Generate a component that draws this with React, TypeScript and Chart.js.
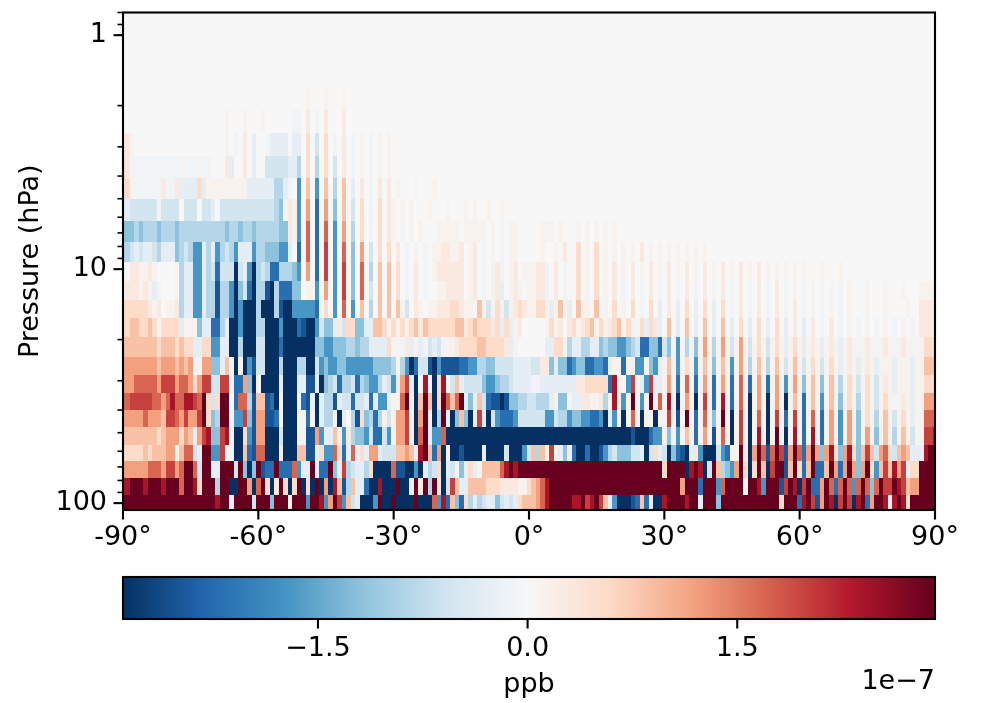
import React, { useEffect, useRef } from "react";
import { Chart, registerables } from "chart.js";

Chart.register(...registerables);

const FONT = "'DejaVu Sans', sans-serif";
const FONT_SIZE = 27;
const AXIS_WIDTH = 2.1;

// Pressure level edges (hPa), top of the plot to the bottom.
const pressureEdges = [0.8, 1.02, 1.3, 1.67, 2.09, 2.62, 3.29, 4.08, 5.02, 6.23, 7.67, 9.33, 11.25, 13.6, 16.2, 19.5, 23.8, 28.4, 33.9, 40.1, 47.3, 56.5, 66.1, 78.2, 92.4, 107];
const latitudeStart = -90;
const latitudeStep = 1;
const latitudeCount = 181;

const bandValues: Record<string, number> = {
  a: 2.9, b: 2.4, c: 2.0, d: 1.7, e: 1.2, f: 0.85, g: 0.55, h: 0.28, i: 0.1, ".": 0,
  I: -0.1, H: -0.28, G: -0.55, F: -0.85, E: -1.2, D: -1.7, C: -2.2, B: -2.5, A: -2.9,
};

// One row per pressure level, one letter per latitude (cell centred on it), in groups of ten (blank = 0).
const levelRows = [
  "",
  "",
  "",
  ".......... .......... .......... .......... .i...i...i",
  ".......... .......... ...i...i.. .i......II .h.I.h...h",
  "hhi....... .......... ...i.I.h.H ..IHHHH.HH .g.G.g.I.h .I.i.I.i.i",
  "ghIIIIIIII IIIIiIIiII ...hH..h.H ..GGGGGHHF .g.F.g.G.h .I.i.I.i.i",
  "ggiIIIIIIh IIhHHHHgHi iiiiiiiiHH HHHHFFHI.D .f.D.f.F.f .H.h.I.h.h .i...i...i",
  "HHGGGGGGIG GGG.GGG.GG H.GGGGGGGG GGGGFEihiD .e.C.e.E.f .G.g.I.g.h i.i.i...i. ..i...i.i. .i..i.....",
  "EEEFEFFFEF FFEFFFFFFF FFFEFFEFFE FFFFFEEhiD .d.C.d.D.e .F.g.I.g.h i.I.i.i... iiiii.iiii i.i.I.ii.. ...iIi.i.. .i.i.i.i.i",
  "FFGHGHHGFH HHEFGFDDHF HDFGFDHHHD FFEEEDDH.C .d.C.c.D.d .E.e.G.g.g .h.I.i.I.i ihhiih.ih. I.i.I.ii.. ...i..i.h. .g.i.g.i.i .i.i.h.i.i .i.i.i.i.i",
  "I.hhiihi.. ..iFHHDDHF GCGGGAGHDA FGFCCFFFED .e.C.c.D.c .E.d.F.f.f .g.I.h.I.i hhhhhh.ih. I.ihI.ih.i iihhI.h.I. .g.i.g.i.h .i.h.i.h.i .h.i.h.i.h .i.h.i.h.i .h.i.i.i.i .i...i...i",
  "ihhhihiHI. ..iFHHDDHF FBFFDAEGCA FFBAFCCCEE .iiD.e.D.c .E.d.G.f.f .g.I.h.I.. iihhhh.ih. I.ihH.ihi. iihhI.h.I. .g.I.g.i.h .I.h.I.h.I .h.I.h.I.h .I.h.I.h.I .h.I.h.I.i .I.i.I.i.I .i...i...i ...i...iiii",
  "gggggghih. iihFHHDDHF FBFFDADAAA FAAAFBAADD DDDCIg.D.d .D.f.F.f.f .fiG.hi.ii hhhgghii.f iGigiGihgh iiggiHifiH .fii.f.i.g .i.g.I.g.H .h.H.g.H.g .H.g.I.h.I .h.I.h.I.h .I.i.I.i.I .i...i...i ....i..hhhh",
  "ggffggfgig gggHiiiEHH CCFHAADAAA FFAAADAAAC BAADGEEHhG ggEEHHffgi gigigfhfgg ggggffhgfg gghgHgHih. ....igih.h gihgfigihg figiIgHghH .f.H.f.H.f .H.f.H.g.H .g.H.g.H.h .H.h.I.h.I .i.I.i.I.i .I.i.I.hhhh",
  "ffffffffgf ffgfggHHgg DDHHAAFAAA GGAAACAAAA AAAEEDDEEE FFEFFHHHHg IiIhHiHIGH GIiihggggf fgggghHi.. ....HHggIF HHFFHHEFEE DDEFGCCEEC GEiDiFiEie iFieiGieiG igiGigiHig iHihiHihiH ihiIihiIih iIihiIiiggg",
  "eeeeeeeefe eefefeIIee EEHfIAiADB GGAAAFAAAF FAAGDEDDEE DDDDDDEEEE FiFDACGGBA DBBBBCCDDF FEEGGGGHHH HGGhhEHEEC DEECCDDCHi iCiiDDiEDH ifiDigiDif iEifiDieiF ifiFifiGif iGigiGigiH ihiHihiHii iHiiiHiifff",
  "eeedddddec cceddegecc GGccICCeEA iAAAAHAAAH HBBHAEFGCF FGCFEDDFHG DHecHAIbIA gb.GfHGGGG EDDEFFGHHH HIIHHHHHHH HhhgggggCb iiDciHDcHH ieiCidiCie iCieiCidiC ieiCieiDie iEifiEifiF igiGigiGih iHiiiHiiggg",
  "ddcccccdde dbddbbcdag Ggaa.CddFB ffBCAiAAAI CBHAHFFBHG GCGGHCHDDH iidaiAfafA gadfdaHEHf GCBBABEEFF GGFFFHiEEi HHhhiihFib iDiaiDiaid ibiAieiAic iCibiCidiA ieiAieiAif iCifiDifiE igiFigiGig iIihiHiieee",
  "eeeeedeeef ccdeceecag EFaaiDDcEB eeBBCiAAAi iCiAHFFiAH .FBgEFCFiG ieeciAeaiA FaHAEfEAHc HAGDCCCDGG GGGGDDGFFD EEDDCCDAHD iAidiAiiAi iciBiaiCid iEiaiAiciA idiAiciCic iCidiCieiD ieiEigiFif iGigiHiiddd",
  "ffffffffgf eeegefHecb EEcbiAAgDB eeAAAGAAAi iBBeDHHfiD hFEEDGCCGD ieeciAdaHD DdAAAAAAAA AAAAAAAAAA AAAAAAAAAA AAAAAAAAAA AAABAAACDD iEiDifiCie iBidiAiciA ibiAiaiAib iCibiCieiD ieiEieiEif iFifiGiiccb",
  "gggggfgfff eeifddGHaa DDcIIAAfCB ddAAAhAAAf fBBHgDDdgC HdHgHeeHGG GffefHbafC eAiAABAAAA HAAAAGAAAD GfFficiHEh CAACAABDFG EEEGGHAGgH GAECBAHhDA AAGDCiiahA eadBdacBea dCeaeEebgE ebgEfcfGed gGfefHHHbaa",
  "eeeeeeddde ccedaadGaa HHaaaGaEAE aBCCaCCCdD HHaHCCaEHc FGHHFgAAAA dBBAADAHFG gAHGiEHgHi ffffdbabaa aaaaaaaaaa aaaaaaaaaa aaaaaaaaaa gaaaaAbabA GafFEDeagA gafAcaaBfa gCfaCCfaeC eaeEeagDfc fbecHggaaaa",
  "bbaaabaaab aaadaabgaa aFaaAAaaeA dagAhagAga AgAaAeAbfB FfHHCAAbAA AaAAHahaFa hAGcfHHfff fggghhhhii gfedbaaaaa aaaaaaaaaa aaaaaaaaaa aaaaeaaaCa aaDdaaaaIa abDaaaBcab AcaCCeadCd adDdadEdac cabcfeeaaaa",
  "aaaaaaaaaa aaaaaaaaaa abaaHaaaaG aaaEaaaiaa aDaabDeacD fGHAAADaAA aAAAAaAAAd DbCfECgFHF GHHEGHGHgf ffedbaaaaa bbacbacfHD AAABCfCHAA baaaabaaHa aaEaaaaaaa aaaaaagaaa CbacBeabAc acAbaCeaab Hbabgaaaaaa",
];

const xTickValues = [-90, -60, -30, 0, 30, 60, 90];
const yMajorTicks = [1, 10, 100];
const yMinorTicks = [0.8, 0.9, 2, 3, 4, 5, 6, 7, 8, 9, 20, 30, 40, 50, 60, 70, 80, 90];
const colorbarTicks = [-1.5, 0, 1.5];
const colorbarMin = -2.895;
const colorbarMax = 2.915;
const colorLimit = 2.9;
const colorbarLabel = "ppb";
const colorbarExponent = "1e\u22127";
const yAxisLabel = "Pressure (hPa)";

// matplotlib RdBu_r colormap stops.
const rdbu = ["#053061", "#2166ac", "#4393c3", "#92c5de", "#d1e5f0", "#f7f7f7", "#fddbc7", "#f4a582", "#d6604d", "#b2182b", "#67001f"];
const rdbuRgb = rdbu.map((h) => [1, 3, 5].map((i) => parseInt(h.slice(i, i + 2), 16)));

function colorFor(v: number) {
  const t = Math.max(0, Math.min(1, (v + colorLimit) / (2 * colorLimit))) * (rdbuRgb.length - 1);
  const i = Math.min(rdbuRgb.length - 2, Math.floor(t));
  const f = t - i;
  const c = rdbuRgb[i].map((a, k) => Math.round(a + (rdbuRgb[i + 1][k] - a) * f));
  return `rgb(${c[0]},${c[1]},${c[2]})`;
}

type Cell = { x: number; y: number; x0: number; x1: number; y0: number; y1: number; v: number };

function buildCells(): Cell[] {
  const cells: Cell[] = [];
  levelRows.forEach((row, r) => {
    const codes = row.replace(/ /g, "");
    for (let c = 0; c < latitudeCount; c++) {
      const v = bandValues[codes[c] ?? "."] ?? 0;
      const x = latitudeStart + c * latitudeStep;
      cells.push({
        x,
        y: pressureEdges[r],
        x0: Math.max(latitudeStart, x - latitudeStep / 2),
        x1: Math.min(-latitudeStart, x + latitudeStep / 2),
        y0: pressureEdges[r],
        y1: pressureEdges[r + 1],
        v,
      });
    }
  });
  return cells;
}

const heatmapPlugin = {
  id: "heatmap",
  beforeDatasetsDraw(chart: any) {
    const { ctx, scales } = chart;
    ctx.save();
    for (const d of chart.data.datasets[0].data as Cell[]) {
      const l = Math.round(scales.x.getPixelForValue(d.x0));
      const r = Math.round(scales.x.getPixelForValue(d.x1));
      const t = Math.round(scales.y.getPixelForValue(d.y0));
      const b = Math.round(scales.y.getPixelForValue(d.y1));
      ctx.fillStyle = colorFor(d.v);
      ctx.fillRect(l, t, r - l, b - t);
    }
    ctx.restore();
  },
};

function line(ctx: CanvasRenderingContext2D, x0: number, y0: number, x1: number, y1: number, w: number) {
  ctx.lineWidth = w;
  ctx.beginPath();
  ctx.moveTo(x0, y0);
  ctx.lineTo(x1, y1);
  ctx.stroke();
}

const framePlugin = {
  id: "frame",
  afterDraw(chart: any) {
    const { ctx, chartArea: a, scales } = chart;
    ctx.save();
    ctx.strokeStyle = "#000";
    ctx.lineCap = "butt";
    ctx.lineWidth = AXIS_WIDTH;
    ctx.strokeRect(a.left, a.top, a.right - a.left, a.bottom - a.top);
    for (const v of xTickValues) {
      const x = scales.x.getPixelForValue(v);
      line(ctx, x, a.bottom, x, a.bottom + 9.5, AXIS_WIDTH);
    }
    for (const v of yMajorTicks) {
      const y = scales.y.getPixelForValue(v);
      line(ctx, a.left - 9.5, y, a.left, y, AXIS_WIDTH);
    }
    for (const v of yMinorTicks) {
      const y = scales.y.getPixelForValue(v);
      line(ctx, a.left - 5.5, y, a.left, y, 1.6);
    }
    ctx.restore();
  },
};

const colorbarPlugin = {
  id: "colorbar",
  beforeDatasetsDraw(chart: any) {
    const { ctx, chartArea: a, scales } = chart;
    const x0 = scales.x.getPixelForValue(-colorLimit);
    const x1 = scales.x.getPixelForValue(colorLimit);
    const g = ctx.createLinearGradient(x0, 0, x1, 0);
    rdbu.forEach((c, i) => g.addColorStop(i / (rdbu.length - 1), c));
    ctx.save();
    ctx.fillStyle = g;
    ctx.fillRect(a.left, a.top, a.right - a.left, a.bottom - a.top);
    ctx.restore();
  },
  afterDraw(chart: any) {
    const { ctx, chartArea: a, scales } = chart;
    ctx.save();
    ctx.strokeStyle = "#000";
    ctx.lineWidth = AXIS_WIDTH;
    ctx.strokeRect(a.left, a.top, a.right - a.left, a.bottom - a.top);
    for (const v of colorbarTicks) {
      const x = scales.x.getPixelForValue(v);
      line(ctx, x, a.bottom, x, a.bottom + 9.5, AXIS_WIDTH);
    }
    ctx.fillStyle = "#000";
    ctx.font = `${FONT_SIZE}px ${FONT}`;
    ctx.textAlign = "right";
    ctx.textBaseline = "middle";
    ctx.fillText(colorbarExponent, a.right, 122);
    ctx.restore();
  },
};

export default function App() {
  const mainRef = useRef<HTMLCanvasElement>(null);
  const barRef = useRef<HTMLCanvasElement>(null);

  useEffect(() => {
    const font = { family: FONT, size: FONT_SIZE };
    const main = new Chart(mainRef.current!, {
      type: "scatter",
      data: { datasets: [{ data: buildCells() as any, pointRadius: 0, showLine: false }] },
      plugins: [heatmapPlugin, framePlugin],
      options: {
        responsive: false,
        animation: false,
        events: [],
        layout: { autoPadding: false, padding: { top: 12.5, right: 46, left: 0, bottom: 0 } },
        plugins: { legend: { display: false }, tooltip: { enabled: false } },
        scales: {
          x: {
            type: "linear",
            min: -90,
            max: 90,
            grid: { display: false, drawTicks: false },
            border: { display: false },
            afterFit: (s: any) => { s.height = 50; s.paddingLeft = 0; s.paddingRight = 0; },
            afterBuildTicks: (s: any) => { s.ticks = xTickValues.map((value) => ({ value })); },
            ticks: { color: "#000", font, padding: 12, maxRotation: 0, autoSkip: false, callback: (v: any) => `${v}\u00b0` },
          },
          y: {
            type: "logarithmic",
            reverse: true,
            min: pressureEdges[0],
            max: pressureEdges[pressureEdges.length - 1],
            grid: { display: false, drawTicks: false },
            border: { display: false },
            afterFit: (s: any) => { s.width = 123; s.paddingTop = 0; s.paddingBottom = 0; },
            afterBuildTicks: (s: any) => { s.ticks = yMajorTicks.map((value) => ({ value, major: true })); },
            title: { display: true, text: yAxisLabel, color: "#000", font, padding: { top: 15, bottom: 0 } },
            ticks: { color: "#000", font, padding: 16, autoSkip: false, callback: (v: any) => `${v}` },
          },
        },
      },
    } as any);

    const bar = new Chart(barRef.current!, {
      type: "scatter",
      data: { datasets: [{ data: [] }] },
      plugins: [colorbarPlugin],
      options: {
        responsive: false,
        animation: false,
        events: [],
        layout: { autoPadding: false, padding: { top: 17, left: 123, right: 46, bottom: 0 } },
        plugins: { legend: { display: false }, tooltip: { enabled: false } },
        scales: {
          x: {
            type: "linear",
            min: colorbarMin,
            max: colorbarMax,
            grid: { display: false, drawTicks: false },
            border: { display: false },
            afterFit: (s: any) => { s.height = 84; s.paddingLeft = 0; s.paddingRight = 0; },
            afterBuildTicks: (s: any) => { s.ticks = colorbarTicks.map((value) => ({ value })); },
            title: { display: true, text: colorbarLabel, color: "#000", font, padding: { top: 0, bottom: 2 } },
            ticks: { color: "#000", font, padding: 14, maxRotation: 0, autoSkip: false, callback: (v: any) => Number(v).toFixed(1).replace("-", "\u2212") },
          },
          y: { display: false, min: 0, max: 1 },
        },
      },
    } as any);

    return () => {
      main.destroy();
      bar.destroy();
    };
  }, []);

  return (
    <div style={{ position: "absolute", left: 0, top: 0, width: 981, height: 703, background: "#fff" }}>
      <canvas ref={mainRef} width={981} height={560} style={{ position: "absolute", left: 0, top: 0, width: 981, height: 560 }} />
      <canvas ref={barRef} width={981} height={143} style={{ position: "absolute", left: 0, top: 560, width: 981, height: 143 }} />
    </div>
  );
}
